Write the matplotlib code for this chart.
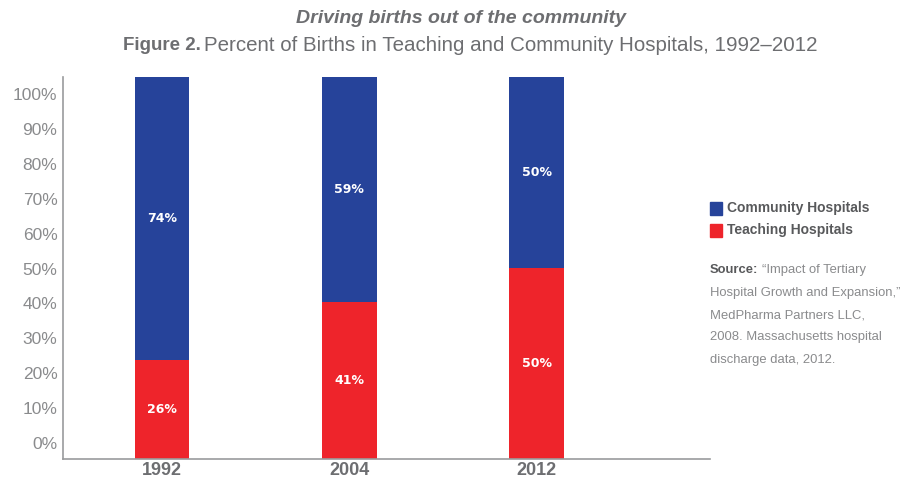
import numpy as np
import matplotlib
matplotlib.use("Agg")
import matplotlib.pyplot as plt
from matplotlib.patches import Rectangle

plt.rcParams['font.family'] = ['Liberation Sans', 'DejaVu Sans']

years = ['1992', '2004', '2012']
teaching = [26, 41, 50]
community = [74, 59, 50]
tick_labels = ['0%', '10%', '20%', '30%', '40%', '50%', '60%', '70%', '80%', '90%', '100%']

blue = '#26439a'
red = '#ee242b'
grey = '#6d6e71'
light = '#8a8b8d'

fig = plt.figure(figsize=(9.23, 4.8), dpi=100)
ax = fig.add_axes([0.0683, 0.04375, 0.7007, 0.7958])

x = np.arange(len(years))
w = 0.293
ax.bar(x, teaching, w, color=red)
ax.bar(x, community, w, bottom=teaching, color=blue)

for i in range(len(years)):
    ax.text(x[i], teaching[i] / 2, '%d%%' % teaching[i], ha='center', va='center',
            color='white', fontsize=9, fontweight='bold', family='DejaVu Sans')
    ax.text(x[i], teaching[i] + community[i] / 2, '%d%%' % community[i], ha='center', va='center',
            color='white', fontsize=9, fontweight='bold', family='DejaVu Sans')

ax.set_xlim(-0.528, 2.923)
ax.set_ylim(0, 100)
# the labels in the original sit a little squeezed toward the middle
ax.set_yticks(np.linspace(4.2, 95.5, 11))
ax.set_yticklabels(tick_labels, fontsize=12.5, color=light)
ax.set_xticks(x)
ax.set_xticklabels(years, fontsize=13, fontweight='bold', color=grey)
ax.tick_params(length=0, pad=4)
ax.tick_params(axis='x', pad=2)
for s in ['top', 'right']:
    ax.spines[s].set_visible(False)
for s in ['left', 'bottom']:
    ax.spines[s].set_color('#9a9b9d')
    ax.spines[s].set_linewidth(1.2)

fig.text(0.5, 0.962, 'Driving births out of the community', ha='center', va='center',
         fontsize=14, fontweight='bold', style='italic', color=grey)
t1 = fig.text(0.133, 0.905, 'Figure 2.', ha='left', va='center', fontsize=13.5,
              fontweight='bold', color=grey)
fig.canvas.draw()
bb = t1.get_window_extent().transformed(fig.transFigure.inverted())
fig.text(bb.x1 + 0.004, 0.905, 'Percent of Births in Teaching and Community Hospitals, 1992\u20132012',
         ha='left', va='center', fontsize=14.8, color=grey)

# legend
fig.add_artist(Rectangle((0.7692, 0.553), 0.0135, 0.027, transform=fig.transFigure,
                         color=blue))
fig.add_artist(Rectangle((0.7692, 0.507), 0.0135, 0.027, transform=fig.transFigure,
                         color=red))
fig.text(0.7875, 0.566, 'Community Hospitals', ha='left', va='center', fontsize=10,
         fontweight='bold', color='#58595b')
fig.text(0.7875, 0.520, 'Teaching Hospitals', ha='left', va='center', fontsize=10,
         fontweight='bold', color='#58595b')

s1 = fig.text(0.7692, 0.437, 'Source:', ha='left', va='center', fontsize=9.4,
              fontweight='bold', color='#58595b')
fig.canvas.draw()
bb = s1.get_window_extent().transformed(fig.transFigure.inverted())
fig.text(bb.x1 + 0.004, 0.437, '\u201cImpact of Tertiary', ha='left', va='center',
         fontsize=9.4, color=light)
source_lines = ['Hospital Growth and Expansion,\u201d', 'MedPharma Partners LLC,',
                '2008. Massachusetts hospital', 'discharge data, 2012.']
for k, line in enumerate(source_lines):
    fig.text(0.7692, 0.390 - k * 0.0465, line, ha='left', va='center', fontsize=9.4,
             color=light)

fig.savefig('out.png', dpi=100)
